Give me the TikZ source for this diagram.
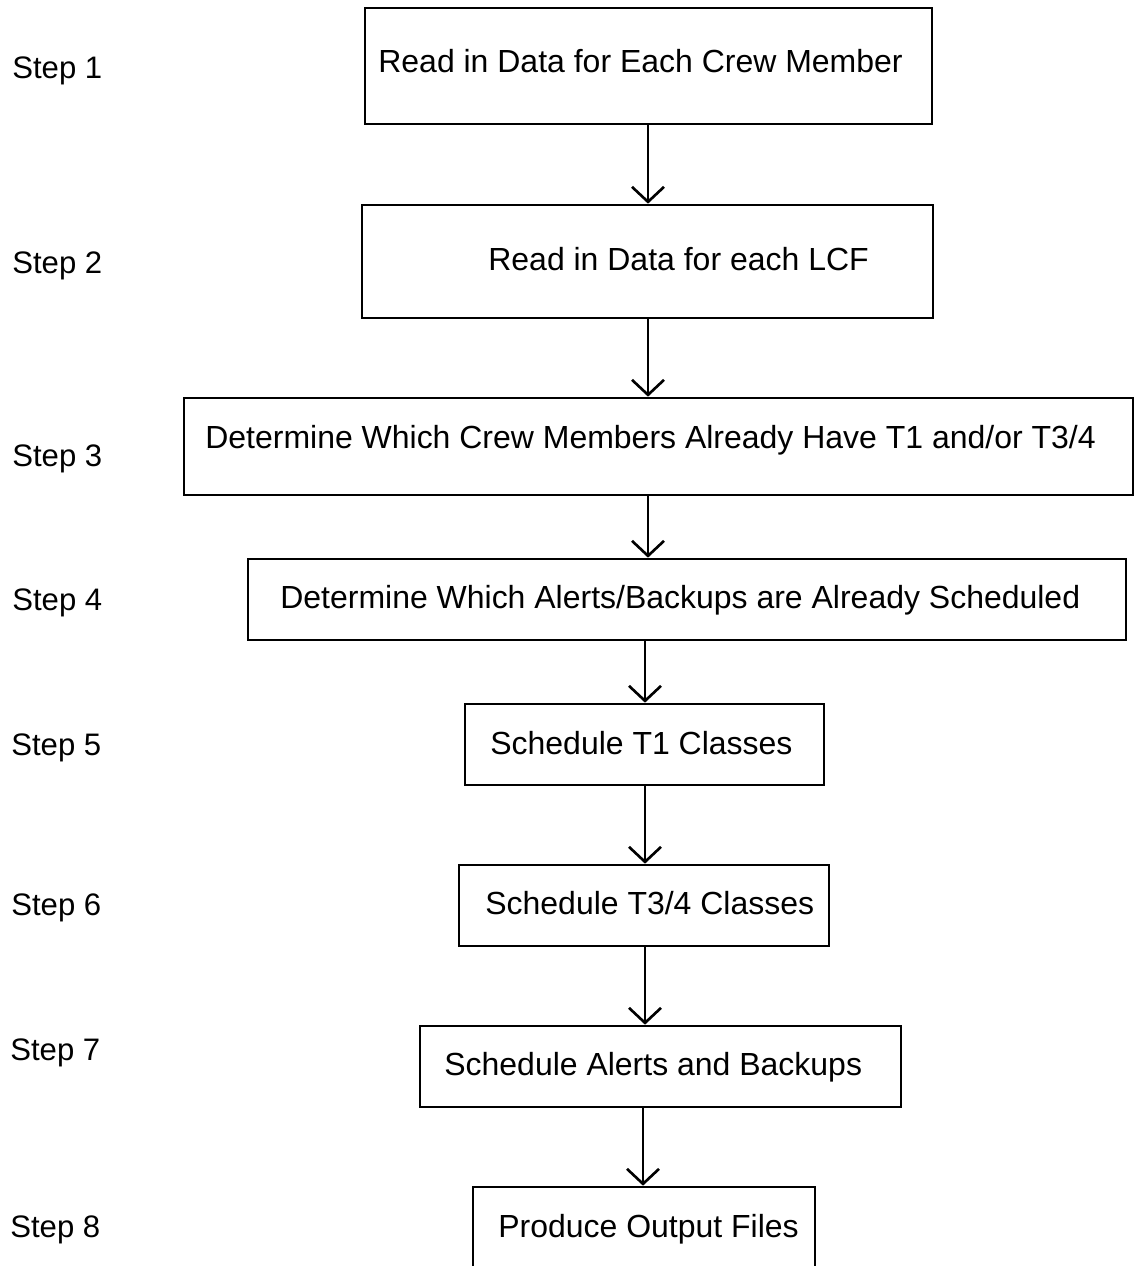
\documentclass[tikz,border=0pt]{standalone}
\usepackage{fontspec}
\setmainfont{Liberation Sans}
\usetikzlibrary{arrows.meta,fit}
\begin{document}
\begin{tikzpicture}[x=0.02cm,y=-0.02cm,
  box/.style={draw,line width=1.5pt,inner sep=0pt},
  lbl/.style={anchor=base west,inner sep=0pt,font=\fontsize{18.2}{20}\selectfont},
  steplbl/.style={anchor=base west,inner sep=0pt,font=\fontsize{17.7}{20}\selectfont},
  arr/.style={line width=1.5pt,-{Straight Barb[length=0.3cm,width=0.64cm,line width=1.5pt]}}]
\useasboundingbox[fill=white] (0,0) rectangle (1133,1266);
% boxes
\node[box,fit={(365,8) (932,124)}] (b1) {};
\node[box,fit={(362,205) (933,318)}] (b2) {};
\node[box,fit={(184,398) (1133,495)}] (b3) {};
\node[box,fit={(248,559) (1126,640)}] (b4) {};
\node[box,fit={(465,704) (824,785)}] (b5) {};
\node[box,fit={(459,865) (829,946)}] (b6) {};
\node[box,fit={(420,1026) (901,1107)}] (b7) {};
\node[box,fit={(473,1187) (815,1300)}] (b8) {};
% texts
\node[lbl] (t1) at (378,73) {Read in Data for Each Crew Member};
\node[lbl] (t2) at (488,271) {Read in Data for each LCF};
\node[lbl] (t3) at (205,449) {Determine Which Crew Members Already Have T1 and/or T3/4};
\node[lbl] (t4) at (280,608) {Determine Which Alerts/Backups are Already Scheduled};
\node[lbl] (t5) at (490,754) {Schedule T1 Classes};
\node[lbl] (t6) at (485,914) {Schedule T3/4 Classes};
\node[lbl] (t7) at (444,1075) {Schedule Alerts and Backups};
\node[lbl] (t8) at (498,1237) {Produce Output Files};
% step labels
\node[steplbl] (s1) at (12,79) {Step 1};
\node[steplbl] (s2) at (12,274) {Step 2};
\node[steplbl] (s3) at (12,466) {Step 3};
\node[steplbl] (s4) at (12,610) {Step 4};
\node[steplbl] (s5) at (11,755) {Step 5};
\node[steplbl] (s6) at (11,915) {Step 6};
\node[steplbl] (s7) at (10,1060) {Step 7};
\node[steplbl] (s8) at (10,1237) {Step 8};
% arrows
\coordinate (xa) at (648,0);
\coordinate (xb) at (645,0);
\coordinate (xc) at (643,0);
\draw[arr] (b1.south -| xa) -- (b2.north -| xa);
\draw[arr] (b2.south -| xa) -- (b3.north -| xa);
\draw[arr] (b3.south -| xa) -- (b4.north -| xa);
\draw[arr] (b4.south -| xb) -- (b5.north -| xb);
\draw[arr] (b5.south -| xb) -- (b6.north -| xb);
\draw[arr] (b6.south -| xb) -- (b7.north -| xb);
\draw[arr] (b7.south -| xc) -- (b8.north -| xc);
\end{tikzpicture}
\end{document}
